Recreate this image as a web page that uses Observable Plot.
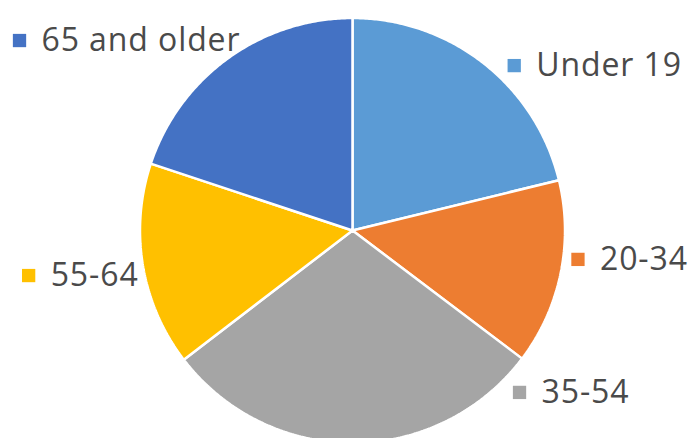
<!DOCTYPE html>
<html>
<head>
<meta charset="utf-8">
<script src="https://cdn.jsdelivr.net/npm/d3@7"></script>
<script src="https://cdn.jsdelivr.net/npm/@observablehq/plot@0.6"></script>
<style>
  html, body { margin: 0; padding: 0; background: #fff; }
</style>
</head>
<body>
<div id="chart"></div>
<script>
// Data
const ages = ["Under 19", "20-34", "35-54", "55-64", "65 and older"];
const shares = [21.2, 14.1, 29.3, 15.5, 19.9];
const colors = ["#5B9BD5", "#ED7D31", "#A5A5A5", "#FFC000", "#4472C4"];

// Label placement (in units of the pie radius, relative to centre)
const labelX = [0.761, 1.061, 0.786, -1.524, -1.567];
const labelY = [0.776, -0.136, -0.762, -0.212, 0.894];

// Layout
const W = 691, H = 438, cx = 352, cy = 230, R = 212.5;

const arcs = d3.pie().sort(null).value(d => d.share)(ages.map((age, i) => ({age, share: shares[i]})));
const poly = [];
for (const a of arcs) {
  const age = a.data.age;
  poly.push({age, x: 0, y: 0});
  const n = Math.max(2, Math.ceil((a.endAngle - a.startAngle) / (Math.PI / 360)));
  for (let k = 0; k <= n; k++) {
    const t = a.startAngle + (a.endAngle - a.startAngle) * k / n;
    poly.push({age, x: Math.sin(t), y: Math.cos(t)});
  }
  poly.push({age, x: 0, y: 0});
}
const labels = ages.map((age, i) => ({age, x: labelX[i], y: labelY[i]}));

const chart = Plot.plot({
  width: W,
  height: H,
  margin: 0,
  x: {domain: [-cx / R, (W - cx) / R], axis: null},
  y: {domain: [-(H - cy) / R, cy / R], axis: null},
  color: {domain: ages, range: colors},
  style: {fontFamily: "'Open Sans', sans-serif", background: "#fff", letterSpacing: "0.9px"},
  marks: [
    Plot.line(poly, {x: "x", y: "y", z: "age", fill: "age", stroke: "white", strokeWidth: 2.5, strokeLinejoin: "miter"}),
    Plot.dot(labels, {x: "x", y: "y", symbol: "square", r: 7.5, fill: "age", stroke: "none"}),
    Plot.text(labels, {x: "x", y: "y", text: "age", dx: 22, textAnchor: "start", fontSize: 32, fill: "#4a4a4a"})
  ]
});
document.getElementById("chart").appendChild(chart);
</script>
</body>
</html>
